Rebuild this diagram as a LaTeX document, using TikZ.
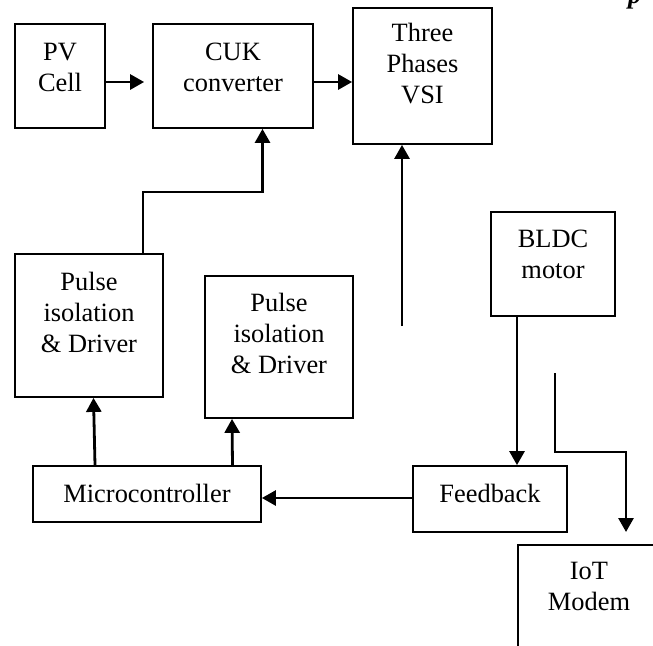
\documentclass[tikz,border=0pt]{standalone}
\usepackage{fontspec}
\setmainfont{Liberation Serif}
\usetikzlibrary{arrows.meta}
\begin{document}
\begin{tikzpicture}[x=1pt,y=-1pt,
  blk/.style={draw, line width=1.8pt, inner sep=0pt},
  txt/.style={align=center, inner sep=0pt, font=\fontsize{26.4}{31}\selectfont},
  arr/.style={line width=2.8pt, -{Triangle[length=14pt,width=15pt]}}]
\useasboundingbox (0,0) rectangle (653,645);
\begin{scope}
\clip (0,0) rectangle (653,645);
% boxes
\node[blk, minimum width=90pt, minimum height=104pt] (pv) at (60,76) {};
\node[blk, minimum width=160pt, minimum height=104pt] (cuk) at (233,76) {};
\node[blk, minimum width=139pt, minimum height=136pt] (vsi) at (422.5,76) {};
\node[blk, minimum width=148pt, minimum height=143pt] (pd1) at (89,325.5) {};
\node[blk, minimum width=148pt, minimum height=142pt] (pd2) at (279,347) {};
\node[blk, minimum width=124pt, minimum height=104pt] (bldc) at (553,264) {};
\node[blk, minimum width=228pt, minimum height=56pt] (mc) at (147,494) {};
\node[blk, minimum width=154pt, minimum height=66pt] (fb) at (490,499) {};
\node[blk, minimum width=180pt, minimum height=160pt, anchor=north west] (iot) at (517,544) {};
% texts
\node[txt] (pvt) at (60,67) {PV\\Cell};
\node[txt] (cukt) at (233,67) {CUK\\converter};
\node[txt] (vsit) at (422.5,64) {Three\\Phases\\VSI};
\node[txt] (pd1t) at (89,312) {Pulse\\isolation\\\& Driver};
\node[txt] (pd2t) at (279,333.5) {Pulse\\isolation\\\& Driver};
\node[txt] (bldct) at (553,254) {BLDC\\motor};
\node[txt, anchor=base] (mct) at (147,502) {Microcontroller};
\node[txt, anchor=base] (fbt) at (490,502) {Feedback};
\node[txt] (iott) at (589,586) {IoT\\Modem};
\node[anchor=base west, inner sep=0pt, font=\fontsize{26.4}{31}\selectfont\bfseries\itshape] (pfr) at (628,3) {p};
% connectors
\coordinate (yA) at (0,82);
\draw[arr, shorten >=8pt] (pv.east |- yA) -- (cuk.west |- yA);
\draw[arr] (cuk.east |- yA) -- (vsi.west |- yA);
\coordinate (k1) at (143,192);
\coordinate (k2) at (262.5,192);
\draw[arr] (k1 |- pd1.north) -- (k1) -- (k2) -- (k2 |- cuk.south);
\coordinate (vin) at (402,326);
\draw[arr] (vin) -- (vin |- vsi.south);
\coordinate (c1) at (95,0);
\coordinate (c1b) at (93.5,0);
\draw[arr] (c1 |- mc.north) -- (c1b |- pd1.south);
\coordinate (c2) at (232.5,0);
\coordinate (c2b) at (232,0);
\draw[arr] (c2 |- mc.north) -- (c2b |- pd2.south);
\coordinate (c3) at (517,0);
\draw[arr] (c3 |- bldc.south) -- (c3 |- fb.north);
\coordinate (yB) at (0,498);
\draw[arr] (fb.west |- yB) -- (mc.east |- yB);
\coordinate (m1) at (555,373);
\coordinate (m2) at (555,452);
\coordinate (m3) at (626,452);
\draw[arr, shorten >=12pt] (m1) -- (m2) -- (m3) -- (m3 |- iot.north);
\end{scope}
\end{tikzpicture}
\end{document}
